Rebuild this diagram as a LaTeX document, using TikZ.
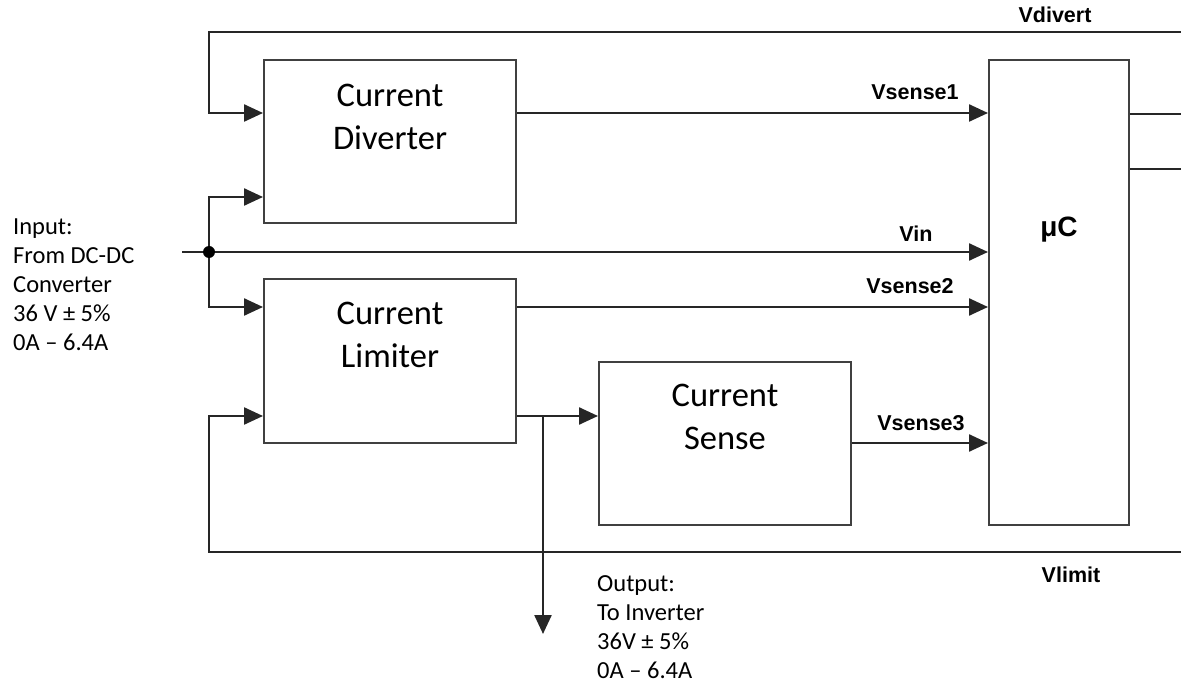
\documentclass[tikz,border=0pt]{standalone}
\usepackage{fontspec}
\setmainfont{Carlito}
\newfontfamily\labfont{Liberation Sans}
\usetikzlibrary{arrows.meta}
\begin{document}
\begin{tikzpicture}[x=1pt,y=-1pt,
  wire/.style={line width=2.4pt, draw=black!85},
  arr/.style={wire,-{Triangle[length=19pt,width=17pt]}},
  blk/.style={draw=black!75,line width=2pt,inner sep=0pt,fill=white},
  btext/.style={font=\fontsize{34.5}{43}\selectfont,align=center,inner sep=0pt},
  sig/.style={font=\labfont\bfseries\fontsize{21.5}{24}\selectfont,inner sep=0pt},
  note/.style={font=\fontsize{24.5}{29}\selectfont,align=left,anchor=west,inner sep=0pt}]
\useasboundingbox (0,0) rectangle (1181,684);
\fill[white] (0,0) rectangle (1181,684);

% blocks
\node[blk,minimum width=252pt,minimum height=163pt] (div) at (390,141.5) {};
\node[blk,minimum width=252pt,minimum height=164pt] (lim) at (390,361) {};
\node[blk,minimum width=252pt,minimum height=163pt] (sen) at (725,443.5) {};
\node[blk,minimum width=140pt,minimum height=465pt] (uc) at (1059,292.5) {};

\node[btext] (divt) at (390,116.5) {Current\\Diverter};
\node[btext] (limt) at (390,335) {Current\\Limiter};
\node[btext] (sent) at (725,416.5) {Current\\Sense};
\node[sig,font=\labfont\bfseries\fontsize{28}{30}\selectfont] (uct) at (1059,230) {μC};

% rows and ports
\coordinate (pA) at (0,113);
\coordinate (pB) at (0,197);
\coordinate (pC) at (0,252);
\coordinate (pD) at (0,307);
\coordinate (pE) at (0,416);
\coordinate (pF) at (0,443);
\coordinate (lx) at (209,0);
\coordinate (jx) at (209,252);
\coordinate (vinL) at (182,252);
\coordinate (topR) at (1181,32);
\coordinate (botR) at (1181,552);
\coordinate (outJ) at (543,416);
\coordinate (outE) at (543,634);
\coordinate (r1) at (1181,114);
\coordinate (r2) at (1181,169);

% connectors
\draw[arr] (topR) -| (lx |- pA) -- (div.west |- pA);
\draw[arr] (div.east |- pA) -- (uc.west |- pA);
\draw[arr] (vinL) -- (uc.west |- pC);
\draw[arr] (jx) |- (div.west |- pB);
\draw[arr] (jx) |- (lim.west |- pD);
\fill[black] (jx) circle[radius=6pt];
\draw[arr] (lim.east |- pD) -- (uc.west |- pD);
\draw[arr] (lim.east |- pE) -- (sen.west |- pE);
\draw[arr] (sen.east |- pF) -- (uc.west |- pF);
\draw[arr] (botR) -| (lx |- pE) -- (lim.west |- pE);
\draw[arr] (outJ) -- (outE);
\draw[wire] (uc.east |- r1) -- (r1);
\draw[wire] (uc.east |- r2) -- (r2);

% labels
\node[sig] (lvd) at (1055,15) {Vdivert};
\node[sig] (ls1) at (915,92) {Vsense1};
\node[sig] (lvin) at (916,234) {Vin};
\node[sig] (ls2) at (910,286) {Vsense2};
\node[sig] (ls3) at (921,423) {Vsense3};
\node[sig] (lvl) at (1071,575) {Vlimit};

\node[note] (inp) at (13,285) {Input:\\From DC-DC\\Converter\\36 V ± 5\%\\0A – 6.4A};
\node[note] (outp) at (597,627.5) {Output:\\To Inverter\\36V ± 5\%\\0A – 6.4A};
\end{tikzpicture}
\end{document}
